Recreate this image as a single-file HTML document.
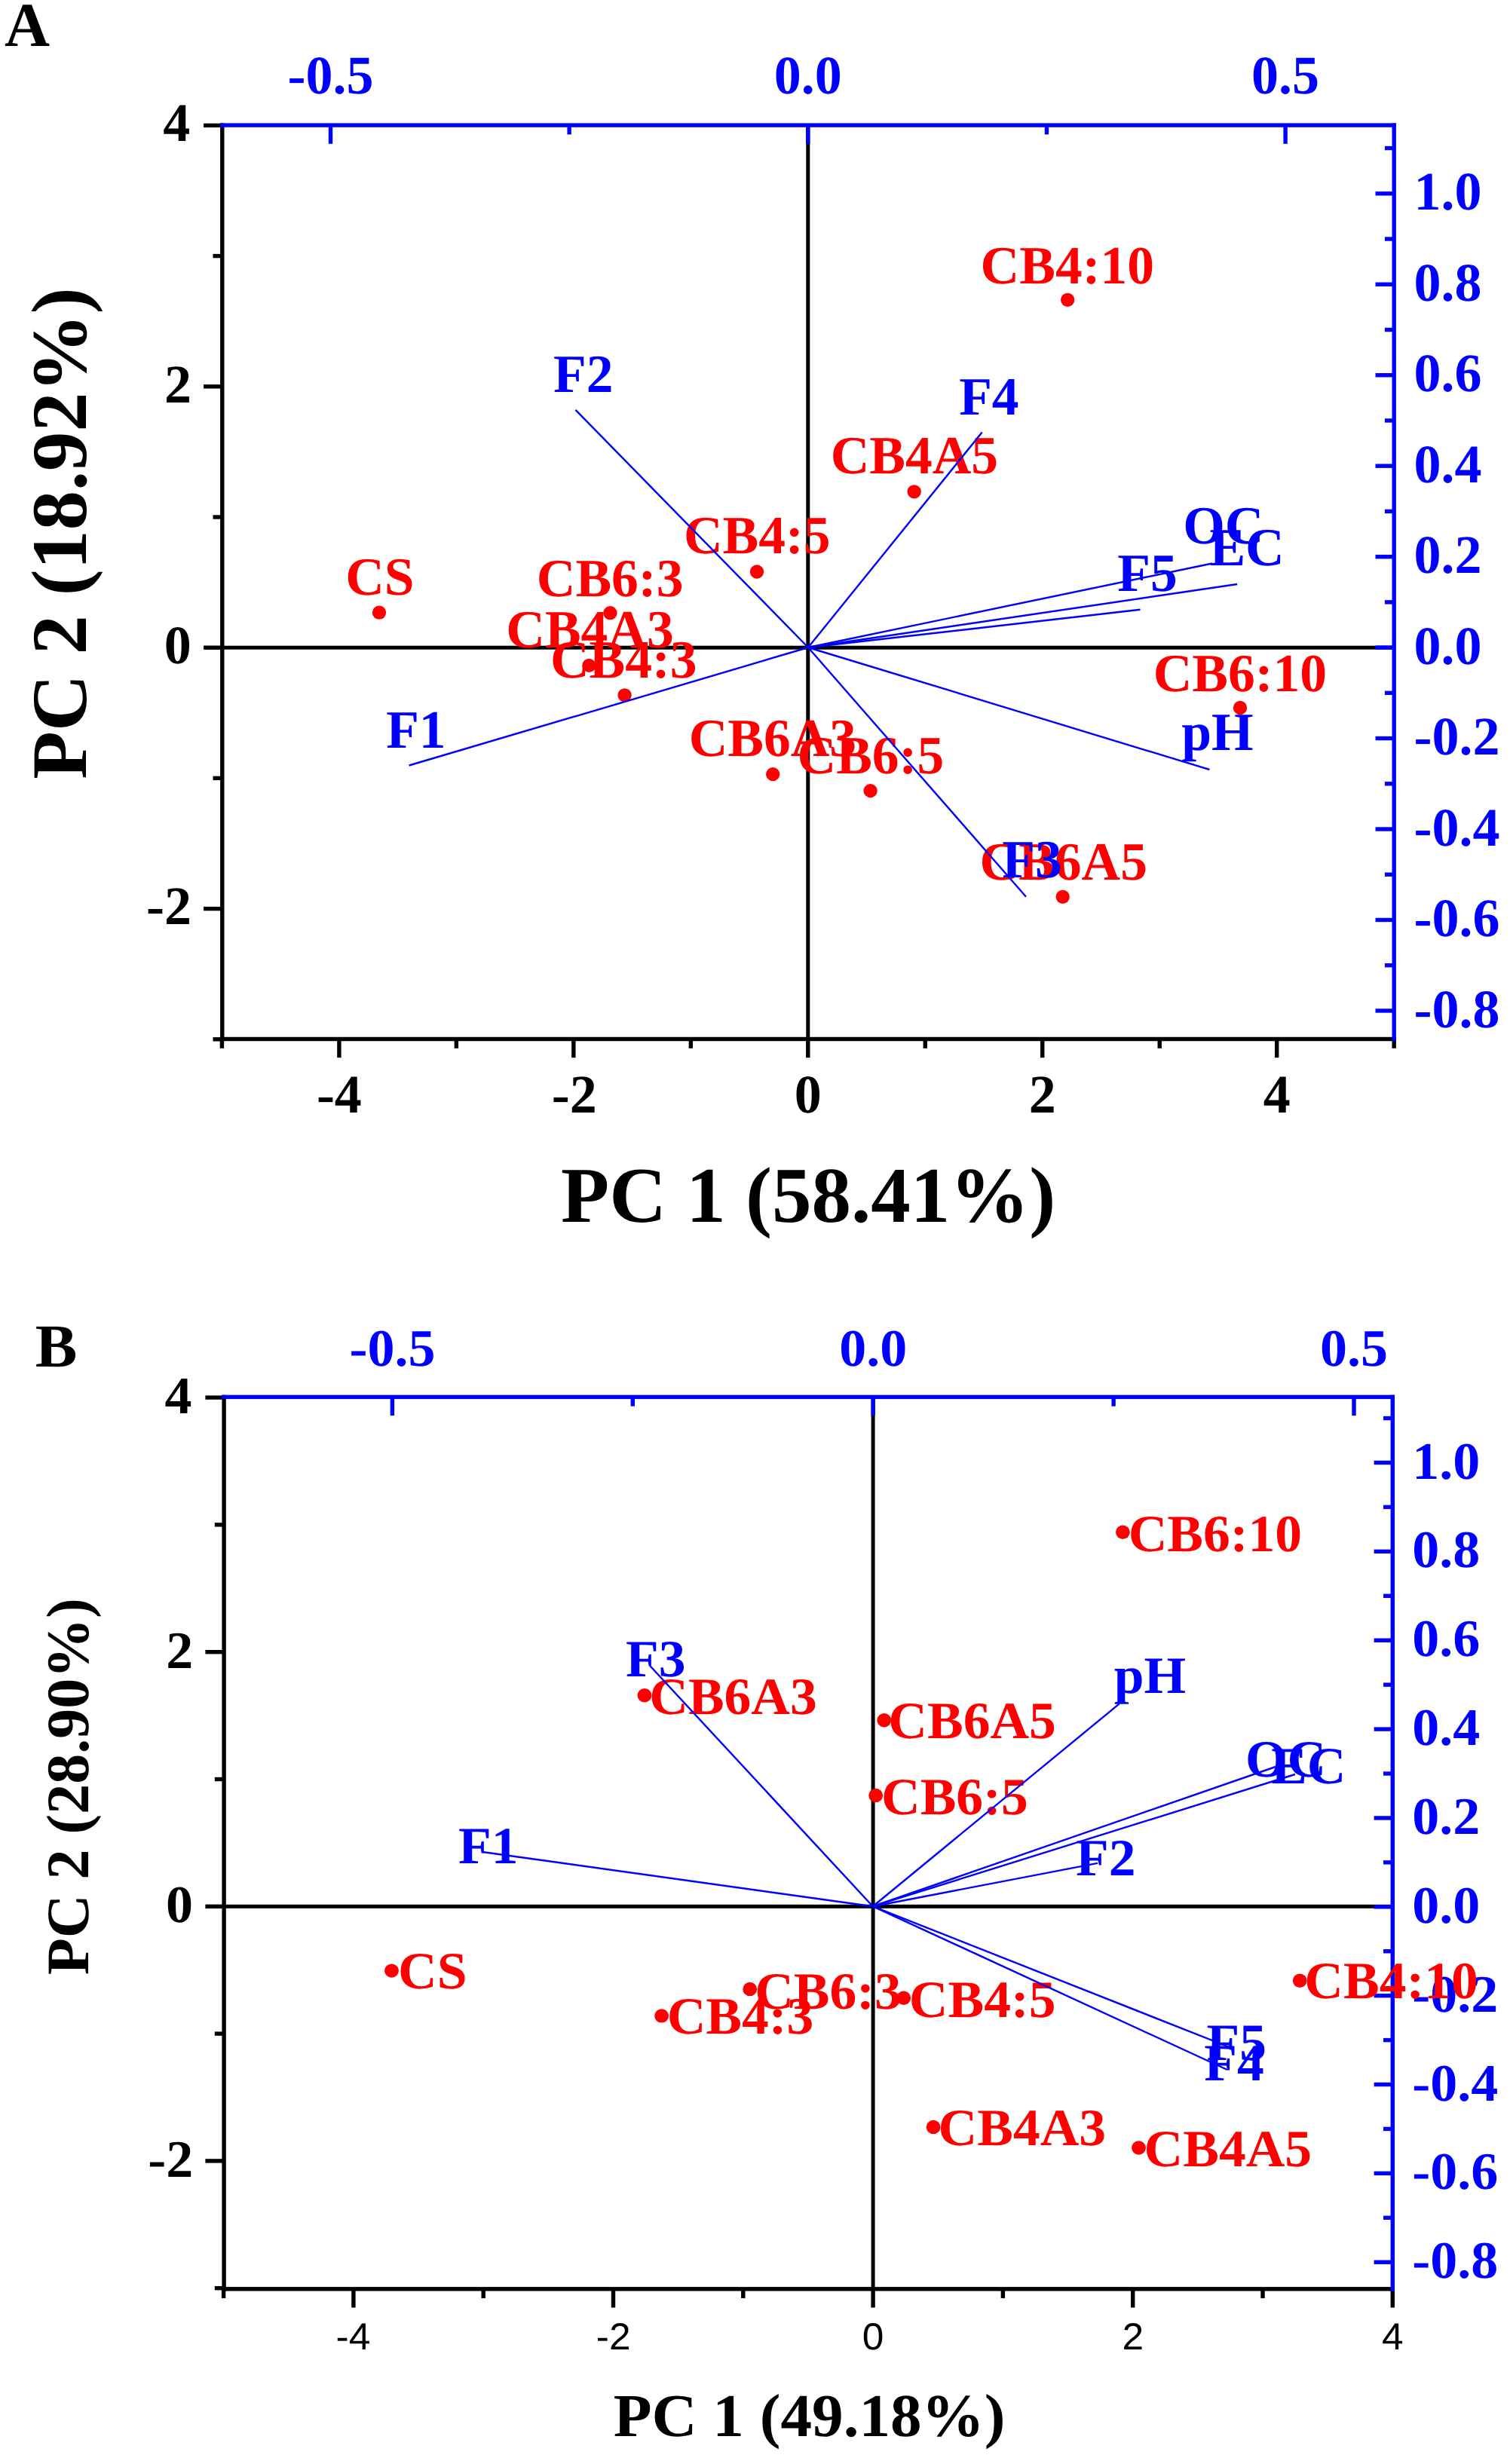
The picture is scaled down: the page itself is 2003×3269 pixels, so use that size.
<!DOCTYPE html>
<html lang="en"><head><meta charset="utf-8"><title>PCA biplots</title>
<style>html,body{margin:0;padding:0;background:#fff}svg{display:block}</style></head>
<body>
<svg width="2003" height="3269" viewBox="0 0 2003 3269" text-rendering="geometricPrecision">
<rect width="2003" height="3269" fill="#ffffff"/>
<g id="panelA">
<rect x="294.8" y="856.7" width="1554.4" height="5" fill="#000000"/>
<rect x="1069.3" y="166.1" width="5" height="1212.4" fill="#000000"/>
<rect x="292.1" y="163.4" width="5.4" height="1217.8" fill="#000000"/>
<rect x="270.1" y="163.7" width="24.7" height="5.4" fill="#000000"/>
<rect x="270.1" y="510.1" width="24.7" height="5.4" fill="#000000"/>
<rect x="270.1" y="856.5" width="24.7" height="5.4" fill="#000000"/>
<rect x="270.1" y="1202.9" width="24.7" height="5.4" fill="#000000"/>
<rect x="282.5" y="336.9" width="12.3" height="5.4" fill="#000000"/>
<rect x="282.5" y="683.3" width="12.3" height="5.4" fill="#000000"/>
<rect x="282.5" y="1029.7" width="12.3" height="5.4" fill="#000000"/>
<rect x="282.5" y="1376.1" width="12.3" height="5.4" fill="#000000"/>
<rect x="292.1" y="1375.8" width="1559.8" height="5.4" fill="#000000"/>
<rect x="447.2" y="1378.5" width="5.4" height="24.7" fill="#000000"/>
<rect x="758.15" y="1378.5" width="5.4" height="24.7" fill="#000000"/>
<rect x="1069.1" y="1378.5" width="5.4" height="24.7" fill="#000000"/>
<rect x="1380.05" y="1378.5" width="5.4" height="24.7" fill="#000000"/>
<rect x="1691" y="1378.5" width="5.4" height="24.7" fill="#000000"/>
<rect x="291.72" y="1378.5" width="5.4" height="12.3" fill="#000000"/>
<rect x="602.67" y="1378.5" width="5.4" height="12.3" fill="#000000"/>
<rect x="913.62" y="1378.5" width="5.4" height="12.3" fill="#000000"/>
<rect x="1224.57" y="1378.5" width="5.4" height="12.3" fill="#000000"/>
<rect x="1535.52" y="1378.5" width="5.4" height="12.3" fill="#000000"/>
<rect x="1846.47" y="1378.5" width="5.4" height="12.3" fill="#000000"/>
<rect x="292.1" y="163.4" width="1559.8" height="5.4" fill="#0000ff"/>
<rect x="435.8" y="166.1" width="5.4" height="24.7" fill="#0000ff"/>
<rect x="1069.1" y="166.1" width="5.4" height="24.7" fill="#0000ff"/>
<rect x="1702.4" y="166.1" width="5.4" height="24.7" fill="#0000ff"/>
<rect x="752.45" y="166.1" width="5.4" height="12.3" fill="#0000ff"/>
<rect x="1385.75" y="166.1" width="5.4" height="12.3" fill="#0000ff"/>
<rect x="1846.5" y="163.4" width="5.4" height="1217.8" fill="#0000ff"/>
<rect x="1824.5" y="1338.24" width="24.7" height="5.4" fill="#0000ff"/>
<rect x="1836.9" y="1278.01" width="12.3" height="5.4" fill="#0000ff"/>
<rect x="1824.5" y="1217.78" width="24.7" height="5.4" fill="#0000ff"/>
<rect x="1836.9" y="1157.55" width="12.3" height="5.4" fill="#0000ff"/>
<rect x="1824.5" y="1097.32" width="24.7" height="5.4" fill="#0000ff"/>
<rect x="1836.9" y="1037.09" width="12.3" height="5.4" fill="#0000ff"/>
<rect x="1824.5" y="976.86" width="24.7" height="5.4" fill="#0000ff"/>
<rect x="1836.9" y="916.63" width="12.3" height="5.4" fill="#0000ff"/>
<rect x="1824.5" y="856.4" width="24.7" height="5.4" fill="#0000ff"/>
<rect x="1836.9" y="796.17" width="12.3" height="5.4" fill="#0000ff"/>
<rect x="1824.5" y="735.94" width="24.7" height="5.4" fill="#0000ff"/>
<rect x="1836.9" y="675.71" width="12.3" height="5.4" fill="#0000ff"/>
<rect x="1824.5" y="615.48" width="24.7" height="5.4" fill="#0000ff"/>
<rect x="1836.9" y="555.25" width="12.3" height="5.4" fill="#0000ff"/>
<rect x="1824.5" y="495.02" width="24.7" height="5.4" fill="#0000ff"/>
<rect x="1836.9" y="434.79" width="12.3" height="5.4" fill="#0000ff"/>
<rect x="1824.5" y="374.56" width="24.7" height="5.4" fill="#0000ff"/>
<rect x="1836.9" y="314.33" width="12.3" height="5.4" fill="#0000ff"/>
<rect x="1824.5" y="254.1" width="24.7" height="5.4" fill="#0000ff"/>
<rect x="1836.9" y="193.87" width="12.3" height="5.4" fill="#0000ff"/>
<text x="381.5" y="124.2" font-size="72" fill="#0000ff" style="font-family:'Liberation Serif',serif;font-weight:bold">-0.5</text>
<text x="1026.8" y="124.2" font-size="72" fill="#0000ff" style="font-family:'Liberation Serif',serif;font-weight:bold">0.0</text>
<text x="1659.97" y="124.2" font-size="72" fill="#0000ff" style="font-family:'Liberation Serif',serif;font-weight:bold">0.5</text>
<text x="216.25" y="187.2" font-size="72" fill="#000000" style="font-family:'Liberation Serif',serif;font-weight:bold">4</text>
<text x="218" y="533.6" font-size="72" fill="#000000" style="font-family:'Liberation Serif',serif;font-weight:bold">2</text>
<text x="217.75" y="880" font-size="72" fill="#000000" style="font-family:'Liberation Serif',serif;font-weight:bold">0</text>
<text x="194" y="1226.4" font-size="72" fill="#000000" style="font-family:'Liberation Serif',serif;font-weight:bold">-2</text>
<text x="1875.5" y="1362.54" font-size="72" fill="#0000ff" style="font-family:'Liberation Serif',serif;font-weight:bold">-0.8</text>
<text x="1875.5" y="1242.08" font-size="72" fill="#0000ff" style="font-family:'Liberation Serif',serif;font-weight:bold">-0.6</text>
<text x="1875.5" y="1121.62" font-size="72" fill="#0000ff" style="font-family:'Liberation Serif',serif;font-weight:bold">-0.4</text>
<text x="1875.5" y="1001.16" font-size="72" fill="#0000ff" style="font-family:'Liberation Serif',serif;font-weight:bold">-0.2</text>
<text x="1875.5" y="880.7" font-size="72" fill="#0000ff" style="font-family:'Liberation Serif',serif;font-weight:bold">0.0</text>
<text x="1875.5" y="760.24" font-size="72" fill="#0000ff" style="font-family:'Liberation Serif',serif;font-weight:bold">0.2</text>
<text x="1875.5" y="639.78" font-size="72" fill="#0000ff" style="font-family:'Liberation Serif',serif;font-weight:bold">0.4</text>
<text x="1875.5" y="519.32" font-size="72" fill="#0000ff" style="font-family:'Liberation Serif',serif;font-weight:bold">0.6</text>
<text x="1875.5" y="398.86" font-size="72" fill="#0000ff" style="font-family:'Liberation Serif',serif;font-weight:bold">0.8</text>
<text x="1875.5" y="278.4" font-size="72" fill="#0000ff" style="font-family:'Liberation Serif',serif;font-weight:bold">1.0</text>
<text x="419.88" y="1475.7" font-size="72" fill="#000000" style="font-family:'Liberation Serif',serif;font-weight:bold">-4</text>
<text x="731.7" y="1475.7" font-size="72" fill="#000000" style="font-family:'Liberation Serif',serif;font-weight:bold">-2</text>
<text x="1053.8" y="1475.7" font-size="72" fill="#000000" style="font-family:'Liberation Serif',serif;font-weight:bold">0</text>
<text x="1364.75" y="1475.7" font-size="72" fill="#000000" style="font-family:'Liberation Serif',serif;font-weight:bold">2</text>
<text x="1675.82" y="1475.7" font-size="72" fill="#000000" style="font-family:'Liberation Serif',serif;font-weight:bold">4</text>
<text x="6.05" y="61" font-size="83" fill="#000000" style="font-family:'Liberation Serif',serif;font-weight:bold">A</text>
<text x="744.05" y="1620.8" font-size="105" fill="#000000" style="font-family:'Liberation Serif',serif;font-weight:bold">PC 1 (58.41%)</text>
<text transform="translate(114 1033.8) rotate(-90)" font-size="104.4" fill="#000000" style="font-family:'Liberation Serif',serif;font-weight:bold">PC 2 (18.92%)</text>
<ellipse cx="503" cy="812.7" rx="9.15" ry="9.15" fill="#ff0000"/>
<ellipse cx="809.4" cy="813.2" rx="9.15" ry="9.15" fill="#ff0000"/>
<ellipse cx="1004" cy="758.5" rx="9.15" ry="9.15" fill="#ff0000"/>
<ellipse cx="781.3" cy="882.9" rx="9.15" ry="9.15" fill="#ff0000"/>
<ellipse cx="828.6" cy="922.3" rx="9.15" ry="9.15" fill="#ff0000"/>
<ellipse cx="1025.2" cy="1027.1" rx="9.15" ry="9.15" fill="#ff0000"/>
<ellipse cx="1154.6" cy="1049.1" rx="9.15" ry="9.15" fill="#ff0000"/>
<ellipse cx="1416.2" cy="397.8" rx="9.15" ry="9.15" fill="#ff0000"/>
<ellipse cx="1212.7" cy="652.3" rx="9.15" ry="9.15" fill="#ff0000"/>
<ellipse cx="1645" cy="939" rx="9.15" ry="9.15" fill="#ff0000"/>
<ellipse cx="1409.7" cy="1189.8" rx="9.15" ry="9.15" fill="#ff0000"/>
<text x="458.15" y="789.3" font-size="71.5" fill="#ff0000" style="font-family:'Liberation Serif',serif;font-weight:bold">CS</text>
<text x="711.77" y="790.5" font-size="71.5" fill="#ff0000" style="font-family:'Liberation Serif',serif;font-weight:bold">CB6:3</text>
<text x="906.98" y="734" font-size="71.5" fill="#ff0000" style="font-family:'Liberation Serif',serif;font-weight:bold">CB4:5</text>
<text x="671.25" y="859" font-size="71.5" fill="#ff0000" style="font-family:'Liberation Serif',serif;font-weight:bold">CB4A3</text>
<text x="729.92" y="899" font-size="71.5" fill="#ff0000" style="font-family:'Liberation Serif',serif;font-weight:bold">CB4:3</text>
<text x="913.65" y="1002.8" font-size="71.5" fill="#ff0000" style="font-family:'Liberation Serif',serif;font-weight:bold">CB6A3</text>
<text x="1057.53" y="1025.5" font-size="71.5" fill="#ff0000" style="font-family:'Liberation Serif',serif;font-weight:bold">CB6:5</text>
<text x="1300.58" y="375.6" font-size="71.5" fill="#ff0000" style="font-family:'Liberation Serif',serif;font-weight:bold">CB4:10</text>
<text x="1101.65" y="628" font-size="71.5" fill="#ff0000" style="font-family:'Liberation Serif',serif;font-weight:bold">CB4A5</text>
<text x="1529.72" y="917" font-size="71.5" fill="#ff0000" style="font-family:'Liberation Serif',serif;font-weight:bold">CB6:10</text>
<text x="1299.55" y="1166.7" font-size="71.5" fill="#ff0000" style="font-family:'Liberation Serif',serif;font-weight:bold">CB6A5</text>
<line x1="1072" y1="859" x2="763.5" y2="543.8" stroke="#0000ff" stroke-width="2.4"/>
<line x1="1072" y1="859" x2="1302.7" y2="573.5" stroke="#0000ff" stroke-width="2.4"/>
<line x1="1072" y1="859" x2="542.6" y2="1015.5" stroke="#0000ff" stroke-width="2.4"/>
<line x1="1072" y1="859" x2="1608" y2="747.5" stroke="#0000ff" stroke-width="2.4"/>
<line x1="1072" y1="859" x2="1641.2" y2="775" stroke="#0000ff" stroke-width="2.4"/>
<line x1="1072" y1="859" x2="1512.5" y2="808.8" stroke="#0000ff" stroke-width="2.4"/>
<line x1="1072" y1="859" x2="1604.4" y2="1021" stroke="#0000ff" stroke-width="2.4"/>
<line x1="1072" y1="859" x2="1361" y2="1189.8" stroke="#0000ff" stroke-width="2.4"/>
<text x="734.12" y="519.7" font-size="71.5" fill="#0000ff" style="font-family:'Liberation Serif',serif;font-weight:bold">F2</text>
<text x="1272.15" y="549.8" font-size="71.5" fill="#0000ff" style="font-family:'Liberation Serif',serif;font-weight:bold">F4</text>
<text x="512.2" y="991.9" font-size="71.5" fill="#0000ff" style="font-family:'Liberation Serif',serif;font-weight:bold">F1</text>
<text x="1569.17" y="721.3" font-size="71.5" fill="#0000ff" style="font-family:'Liberation Serif',serif;font-weight:bold">OC</text>
<text x="1604.38" y="750" font-size="71.5" fill="#0000ff" style="font-family:'Liberation Serif',serif;font-weight:bold">EC</text>
<text x="1482.28" y="783.5" font-size="71.5" fill="#0000ff" style="font-family:'Liberation Serif',serif;font-weight:bold">F5</text>
<text x="1567.17" y="995" font-size="71.5" fill="#0000ff" style="font-family:'Liberation Serif',serif;font-weight:bold">pH</text>
<text x="1329.33" y="1164.4" font-size="71.5" fill="#0000ff" style="font-family:'Liberation Serif',serif;font-weight:bold">F3</text>
</g>
<g id="panelB">
<rect x="297.1" y="2526.8" width="1550.2" height="5" fill="#000000"/>
<rect x="1155.6" y="1853.4" width="5" height="1183.4" fill="#000000"/>
<rect x="294.4" y="1850.7" width="5.4" height="1188.8" fill="#000000"/>
<rect x="272.4" y="1851.4" width="24.7" height="5.4" fill="#000000"/>
<rect x="272.4" y="2189" width="24.7" height="5.4" fill="#000000"/>
<rect x="272.4" y="2526.6" width="24.7" height="5.4" fill="#000000"/>
<rect x="272.4" y="2864.2" width="24.7" height="5.4" fill="#000000"/>
<rect x="284.8" y="2020.2" width="12.3" height="5.4" fill="#000000"/>
<rect x="284.8" y="2357.8" width="12.3" height="5.4" fill="#000000"/>
<rect x="284.8" y="2695.4" width="12.3" height="5.4" fill="#000000"/>
<rect x="284.8" y="3033" width="12.3" height="5.4" fill="#000000"/>
<rect x="294.4" y="3034.1" width="1555.6" height="5.4" fill="#000000"/>
<rect x="466.2" y="3036.8" width="5.4" height="24.7" fill="#000000"/>
<rect x="810.8" y="3036.8" width="5.4" height="24.7" fill="#000000"/>
<rect x="1155.4" y="3036.8" width="5.4" height="24.7" fill="#000000"/>
<rect x="1500" y="3036.8" width="5.4" height="24.7" fill="#000000"/>
<rect x="1844.6" y="3036.8" width="5.4" height="24.7" fill="#000000"/>
<rect x="293.9" y="3036.8" width="5.4" height="12.3" fill="#000000"/>
<rect x="638.5" y="3036.8" width="5.4" height="12.3" fill="#000000"/>
<rect x="983.1" y="3036.8" width="5.4" height="12.3" fill="#000000"/>
<rect x="1327.7" y="3036.8" width="5.4" height="12.3" fill="#000000"/>
<rect x="1672.3" y="3036.8" width="5.4" height="12.3" fill="#000000"/>
<rect x="294.4" y="1850.7" width="1555.6" height="5.4" fill="#0000ff"/>
<rect x="517.7" y="1853.4" width="5.4" height="24.7" fill="#0000ff"/>
<rect x="1155.5" y="1853.4" width="5.4" height="24.7" fill="#0000ff"/>
<rect x="1793.3" y="1853.4" width="5.4" height="24.7" fill="#0000ff"/>
<rect x="836.6" y="1853.4" width="5.4" height="12.3" fill="#0000ff"/>
<rect x="1474.4" y="1853.4" width="5.4" height="12.3" fill="#0000ff"/>
<rect x="1844.6" y="1850.7" width="5.4" height="1188.8" fill="#0000ff"/>
<rect x="1822.6" y="2998.54" width="24.7" height="5.4" fill="#0000ff"/>
<rect x="1835" y="2939.61" width="12.3" height="5.4" fill="#0000ff"/>
<rect x="1822.6" y="2880.68" width="24.7" height="5.4" fill="#0000ff"/>
<rect x="1835" y="2821.75" width="12.3" height="5.4" fill="#0000ff"/>
<rect x="1822.6" y="2762.82" width="24.7" height="5.4" fill="#0000ff"/>
<rect x="1835" y="2703.89" width="12.3" height="5.4" fill="#0000ff"/>
<rect x="1822.6" y="2644.96" width="24.7" height="5.4" fill="#0000ff"/>
<rect x="1835" y="2586.03" width="12.3" height="5.4" fill="#0000ff"/>
<rect x="1822.6" y="2527.1" width="24.7" height="5.4" fill="#0000ff"/>
<rect x="1835" y="2468.17" width="12.3" height="5.4" fill="#0000ff"/>
<rect x="1822.6" y="2409.24" width="24.7" height="5.4" fill="#0000ff"/>
<rect x="1835" y="2350.31" width="12.3" height="5.4" fill="#0000ff"/>
<rect x="1822.6" y="2291.38" width="24.7" height="5.4" fill="#0000ff"/>
<rect x="1835" y="2232.45" width="12.3" height="5.4" fill="#0000ff"/>
<rect x="1822.6" y="2173.52" width="24.7" height="5.4" fill="#0000ff"/>
<rect x="1835" y="2114.59" width="12.3" height="5.4" fill="#0000ff"/>
<rect x="1822.6" y="2055.66" width="24.7" height="5.4" fill="#0000ff"/>
<rect x="1835" y="1996.73" width="12.3" height="5.4" fill="#0000ff"/>
<rect x="1822.6" y="1937.8" width="24.7" height="5.4" fill="#0000ff"/>
<rect x="1835" y="1878.87" width="12.3" height="5.4" fill="#0000ff"/>
<text transform="translate(463.4 1811.5) scale(1 0.972)" font-size="72" fill="#0000ff" style="font-family:'Liberation Serif',serif;font-weight:bold">-0.5</text>
<text transform="translate(1113.2 1811.5) scale(1 0.972)" font-size="72" fill="#0000ff" style="font-family:'Liberation Serif',serif;font-weight:bold">0.0</text>
<text transform="translate(1750.88 1811.5) scale(1 0.972)" font-size="72" fill="#0000ff" style="font-family:'Liberation Serif',serif;font-weight:bold">0.5</text>
<text transform="translate(218.55 1874.9) scale(1 0.972)" font-size="72" fill="#000000" style="font-family:'Liberation Serif',serif;font-weight:bold">4</text>
<text transform="translate(220.3 2212.5) scale(1 0.972)" font-size="72" fill="#000000" style="font-family:'Liberation Serif',serif;font-weight:bold">2</text>
<text transform="translate(220.05 2550.1) scale(1 0.972)" font-size="72" fill="#000000" style="font-family:'Liberation Serif',serif;font-weight:bold">0</text>
<text transform="translate(196.3 2887.7) scale(1 0.972)" font-size="72" fill="#000000" style="font-family:'Liberation Serif',serif;font-weight:bold">-2</text>
<text transform="translate(1873.3 3022.24) scale(1 0.972)" font-size="72" fill="#0000ff" style="font-family:'Liberation Serif',serif;font-weight:bold">-0.8</text>
<text transform="translate(1873.3 2904.38) scale(1 0.972)" font-size="72" fill="#0000ff" style="font-family:'Liberation Serif',serif;font-weight:bold">-0.6</text>
<text transform="translate(1873.3 2786.52) scale(1 0.972)" font-size="72" fill="#0000ff" style="font-family:'Liberation Serif',serif;font-weight:bold">-0.4</text>
<text transform="translate(1873.3 2668.66) scale(1 0.972)" font-size="72" fill="#0000ff" style="font-family:'Liberation Serif',serif;font-weight:bold">-0.2</text>
<text transform="translate(1873.3 2550.8) scale(1 0.972)" font-size="72" fill="#0000ff" style="font-family:'Liberation Serif',serif;font-weight:bold">0.0</text>
<text transform="translate(1873.3 2432.94) scale(1 0.972)" font-size="72" fill="#0000ff" style="font-family:'Liberation Serif',serif;font-weight:bold">0.2</text>
<text transform="translate(1873.3 2315.08) scale(1 0.972)" font-size="72" fill="#0000ff" style="font-family:'Liberation Serif',serif;font-weight:bold">0.4</text>
<text transform="translate(1873.3 2197.22) scale(1 0.972)" font-size="72" fill="#0000ff" style="font-family:'Liberation Serif',serif;font-weight:bold">0.6</text>
<text transform="translate(1873.3 2079.36) scale(1 0.972)" font-size="72" fill="#0000ff" style="font-family:'Liberation Serif',serif;font-weight:bold">0.8</text>
<text transform="translate(1873.3 1961.5) scale(1 0.972)" font-size="72" fill="#0000ff" style="font-family:'Liberation Serif',serif;font-weight:bold">1.0</text>
<text transform="translate(445.52 3117.3) scale(1 0.972)" font-size="51.5" fill="#000000" style="font-family:'Liberation Sans',sans-serif">-4</text>
<text transform="translate(790.75 3117.3) scale(1 0.972)" font-size="51.5" fill="#000000" style="font-family:'Liberation Sans',sans-serif">-2</text>
<text transform="translate(1143.72 3117.3) scale(1 0.972)" font-size="51.5" fill="#000000" style="font-family:'Liberation Sans',sans-serif">0</text>
<text transform="translate(1488.45 3117.3) scale(1 0.972)" font-size="51.5" fill="#000000" style="font-family:'Liberation Sans',sans-serif">2</text>
<text transform="translate(1833.05 3117.3) scale(1 0.972)" font-size="51.5" fill="#000000" style="font-family:'Liberation Sans',sans-serif">4</text>
<text transform="translate(46.75 1812.8) scale(1 0.972)" font-size="83.5" fill="#000000" style="font-family:'Liberation Serif',serif;font-weight:bold">B</text>
<text transform="translate(813.67 3231.7) scale(1 0.972)" font-size="83.2" fill="#000000" style="font-family:'Liberation Serif',serif;font-weight:bold">PC 1 (49.18%)</text>
<text transform="translate(116.8 2620.1) rotate(-90)" font-size="80" fill="#000000" style="font-family:'Liberation Serif',serif;font-weight:bold">PC 2 (28.90%)</text>
<ellipse cx="855" cy="2249.3" rx="9.4" ry="9.2" fill="#ff0000"/>
<ellipse cx="1489.4" cy="2032.8" rx="9.4" ry="9.2" fill="#ff0000"/>
<ellipse cx="1172.8" cy="2282.2" rx="9.4" ry="9.2" fill="#ff0000"/>
<ellipse cx="1161.7" cy="2381.9" rx="9.4" ry="9.2" fill="#ff0000"/>
<ellipse cx="519.5" cy="2614.6" rx="9.4" ry="9.2" fill="#ff0000"/>
<ellipse cx="994.7" cy="2638.9" rx="9.4" ry="9.2" fill="#ff0000"/>
<ellipse cx="877.6" cy="2674.4" rx="9.4" ry="9.2" fill="#ff0000"/>
<ellipse cx="1198.7" cy="2650.8" rx="9.4" ry="9.2" fill="#ff0000"/>
<ellipse cx="1238.1" cy="2821.9" rx="9.4" ry="9.2" fill="#ff0000"/>
<ellipse cx="1724.2" cy="2627.8" rx="9.4" ry="9.2" fill="#ff0000"/>
<ellipse cx="1510.5" cy="2849.5" rx="9.4" ry="9.2" fill="#ff0000"/>
<text transform="translate(861.25 2274) scale(1 0.972)" font-size="71.5" fill="#ff0000" style="font-family:'Liberation Serif',serif;font-weight:bold">CB6A3</text>
<text transform="translate(1496.67 2057.5) scale(1 0.972)" font-size="71.5" fill="#ff0000" style="font-family:'Liberation Serif',serif;font-weight:bold">CB6:10</text>
<text transform="translate(1178.3 2306) scale(1 0.972)" font-size="71.5" fill="#ff0000" style="font-family:'Liberation Serif',serif;font-weight:bold">CB6A5</text>
<text transform="translate(1169.03 2406.5) scale(1 0.972)" font-size="71.5" fill="#ff0000" style="font-family:'Liberation Serif',serif;font-weight:bold">CB6:5</text>
<text transform="translate(528.05 2638.2) scale(1 0.972)" font-size="71.5" fill="#ff0000" style="font-family:'Liberation Serif',serif;font-weight:bold">CS</text>
<text transform="translate(1001.17 2664.5) scale(1 0.972)" font-size="71.5" fill="#ff0000" style="font-family:'Liberation Serif',serif;font-weight:bold">CB6:3</text>
<text transform="translate(884.67 2698) scale(1 0.972)" font-size="71.5" fill="#ff0000" style="font-family:'Liberation Serif',serif;font-weight:bold">CB4:3</text>
<text transform="translate(1205.82 2676) scale(1 0.972)" font-size="71.5" fill="#ff0000" style="font-family:'Liberation Serif',serif;font-weight:bold">CB4:5</text>
<text transform="translate(1244.6 2845.5) scale(1 0.972)" font-size="71.5" fill="#ff0000" style="font-family:'Liberation Serif',serif;font-weight:bold">CB4A3</text>
<text transform="translate(1730.32 2651.3) scale(1 0.972)" font-size="71.5" fill="#ff0000" style="font-family:'Liberation Serif',serif;font-weight:bold">CB4:10</text>
<text transform="translate(1517.55 2873.6) scale(1 0.972)" font-size="71.5" fill="#ff0000" style="font-family:'Liberation Serif',serif;font-weight:bold">CB4A5</text>
<line x1="1157.8" y1="2529.2" x2="862.4" y2="2210.3" stroke="#0000ff" stroke-width="2.4"/>
<line x1="1157.8" y1="2529.2" x2="639.9" y2="2457" stroke="#0000ff" stroke-width="2.4"/>
<line x1="1157.8" y1="2529.2" x2="1484.8" y2="2260.4" stroke="#0000ff" stroke-width="2.4"/>
<line x1="1157.8" y1="2529.2" x2="1692" y2="2344" stroke="#0000ff" stroke-width="2.4"/>
<line x1="1157.8" y1="2529.2" x2="1718" y2="2354" stroke="#0000ff" stroke-width="2.4"/>
<line x1="1157.8" y1="2529.2" x2="1456" y2="2471.9" stroke="#0000ff" stroke-width="2.4"/>
<line x1="1157.8" y1="2529.2" x2="1632" y2="2716.5" stroke="#0000ff" stroke-width="2.4"/>
<line x1="1157.8" y1="2529.2" x2="1628" y2="2746" stroke="#0000ff" stroke-width="2.4"/>
<text transform="translate(830.02 2224.4) scale(1 0.972)" font-size="71.5" fill="#0000ff" style="font-family:'Liberation Serif',serif;font-weight:bold">F3</text>
<text transform="translate(608.1 2471.8) scale(1 0.972)" font-size="71.5" fill="#0000ff" style="font-family:'Liberation Serif',serif;font-weight:bold">F1</text>
<text transform="translate(1477.78 2246) scale(1 0.972)" font-size="71.5" fill="#0000ff" style="font-family:'Liberation Serif',serif;font-weight:bold">pH</text>
<text transform="translate(1651.92 2356.7) scale(1 0.972)" font-size="71.5" fill="#0000ff" style="font-family:'Liberation Serif',serif;font-weight:bold">OC</text>
<text transform="translate(1686.17 2366) scale(1 0.972)" font-size="71.5" fill="#0000ff" style="font-family:'Liberation Serif',serif;font-weight:bold">EC</text>
<text transform="translate(1427.08 2488.1) scale(1 0.972)" font-size="71.5" fill="#0000ff" style="font-family:'Liberation Serif',serif;font-weight:bold">F2</text>
<text transform="translate(1600.53 2732.7) scale(1 0.972)" font-size="71.5" fill="#0000ff" style="font-family:'Liberation Serif',serif;font-weight:bold">F5</text>
<text transform="translate(1597.35 2760.1) scale(1 0.972)" font-size="71.5" fill="#0000ff" style="font-family:'Liberation Serif',serif;font-weight:bold">F4</text>
</g>
</svg>
</body></html>
